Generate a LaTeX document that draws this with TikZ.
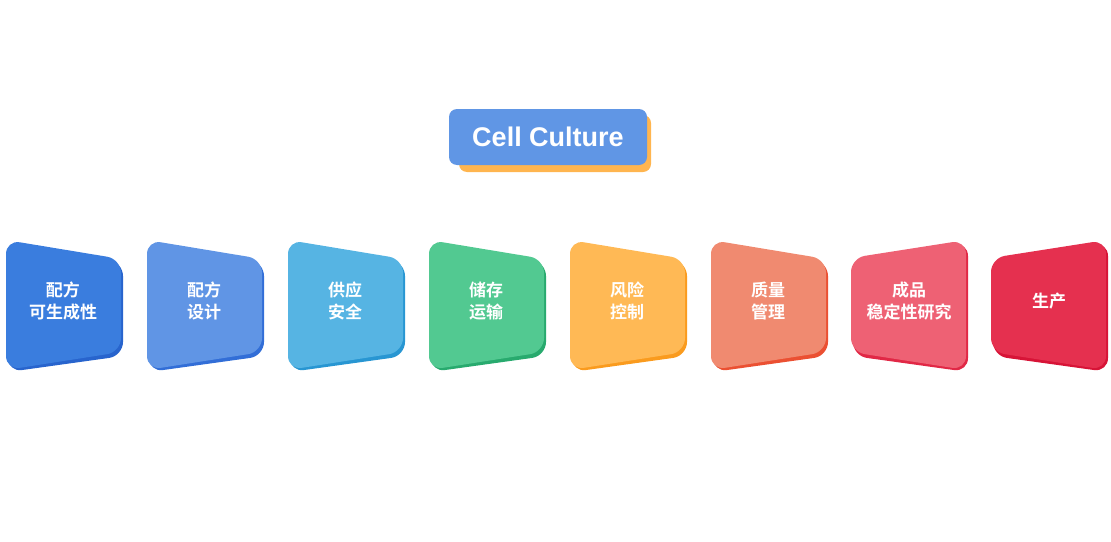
\documentclass[tikz,border=0pt]{standalone}
\usepackage{fontspec}
\setmainfont{Liberation Sans}
\newfontfamily\cjk{Noto Sans CJK SC}[BoldFont={Noto Sans CJK SC Bold}]
\begin{document}
\begin{tikzpicture}[x=1pt,y=-1pt]
\useasboundingbox (0,0) rectangle (1111,541);
\tikzset{lbl/.style={text=white,font=\cjk\bfseries\fontsize{17}{22}\selectfont,align=center}}
% title
\fill[rounded corners=8,fill={rgb,255:red,255;green,181;blue,79}] (459,115) rectangle (651,172);
\node[fill={rgb,255:red,96;green,150;blue,229},rounded corners=8,minimum width=198,minimum height=56,inner sep=0,text=white,font=\bfseries\fontsize{27}{30}\selectfont] (title) at (548,137) {Cell Culture};
\def\L#1#2#3#4#5{%
 \fill[rounded corners=14,fill=#3] (#1+2,242)--(#1+117,262)--(#1+117,356)--(#1+2,372)--cycle;
 \fill[rounded corners=14,fill=#2] (#1,240)--(#1+115,259)--(#1+115,352)--(#1,370)--cycle;
 \node[lbl] (#4) at (#1+57,301) {#5};}
\def\R#1#2#3#4#5{%
 \fill[rounded corners=14,fill=#3] (#1+2,261)--(#1+117,242)--(#1+117,372)--(#1+2,356)--cycle;
 \fill[rounded corners=14,fill=#2] (#1,258)--(#1+115,240)--(#1+115,370)--(#1,352)--cycle;
 \node[lbl] (#4) at (#1+58,301) {#5};}
\L{6}{{rgb,255:red,58;green,125;blue,222}}{{rgb,255:red,40;green,100;blue,205}}{a}{配方\\可生成性}
\L{147}{{rgb,255:red,96;green,149;blue,229}}{{rgb,255:red,50;green,110;blue,215}}{b}{配方\\设计}
\L{288}{{rgb,255:red,86;green,180;blue,227}}{{rgb,255:red,40;green,150;blue,210}}{c}{供应\\安全}
\L{429}{{rgb,255:red,82;green,201;blue,145}}{{rgb,255:red,40;green,170;blue,110}}{d}{储存\\运输}
\L{570}{{rgb,255:red,255;green,185;blue,85}}{{rgb,255:red,250;green,155;blue,30}}{e}{风险\\控制}
\L{711}{{rgb,255:red,240;green,138;blue,112}}{{rgb,255:red,235;green,80;blue,50}}{f}{质量\\管理}
\R{851}{{rgb,255:red,238;green,97;blue,116}}{{rgb,255:red,225;green,40;blue,70}}{g}{成品\\稳定性研究}
\R{991}{{rgb,255:red,229;green,48;blue,79}}{{rgb,255:red,215;green,20;blue,55}}{h}{生产}
\end{tikzpicture}
\end{document}
